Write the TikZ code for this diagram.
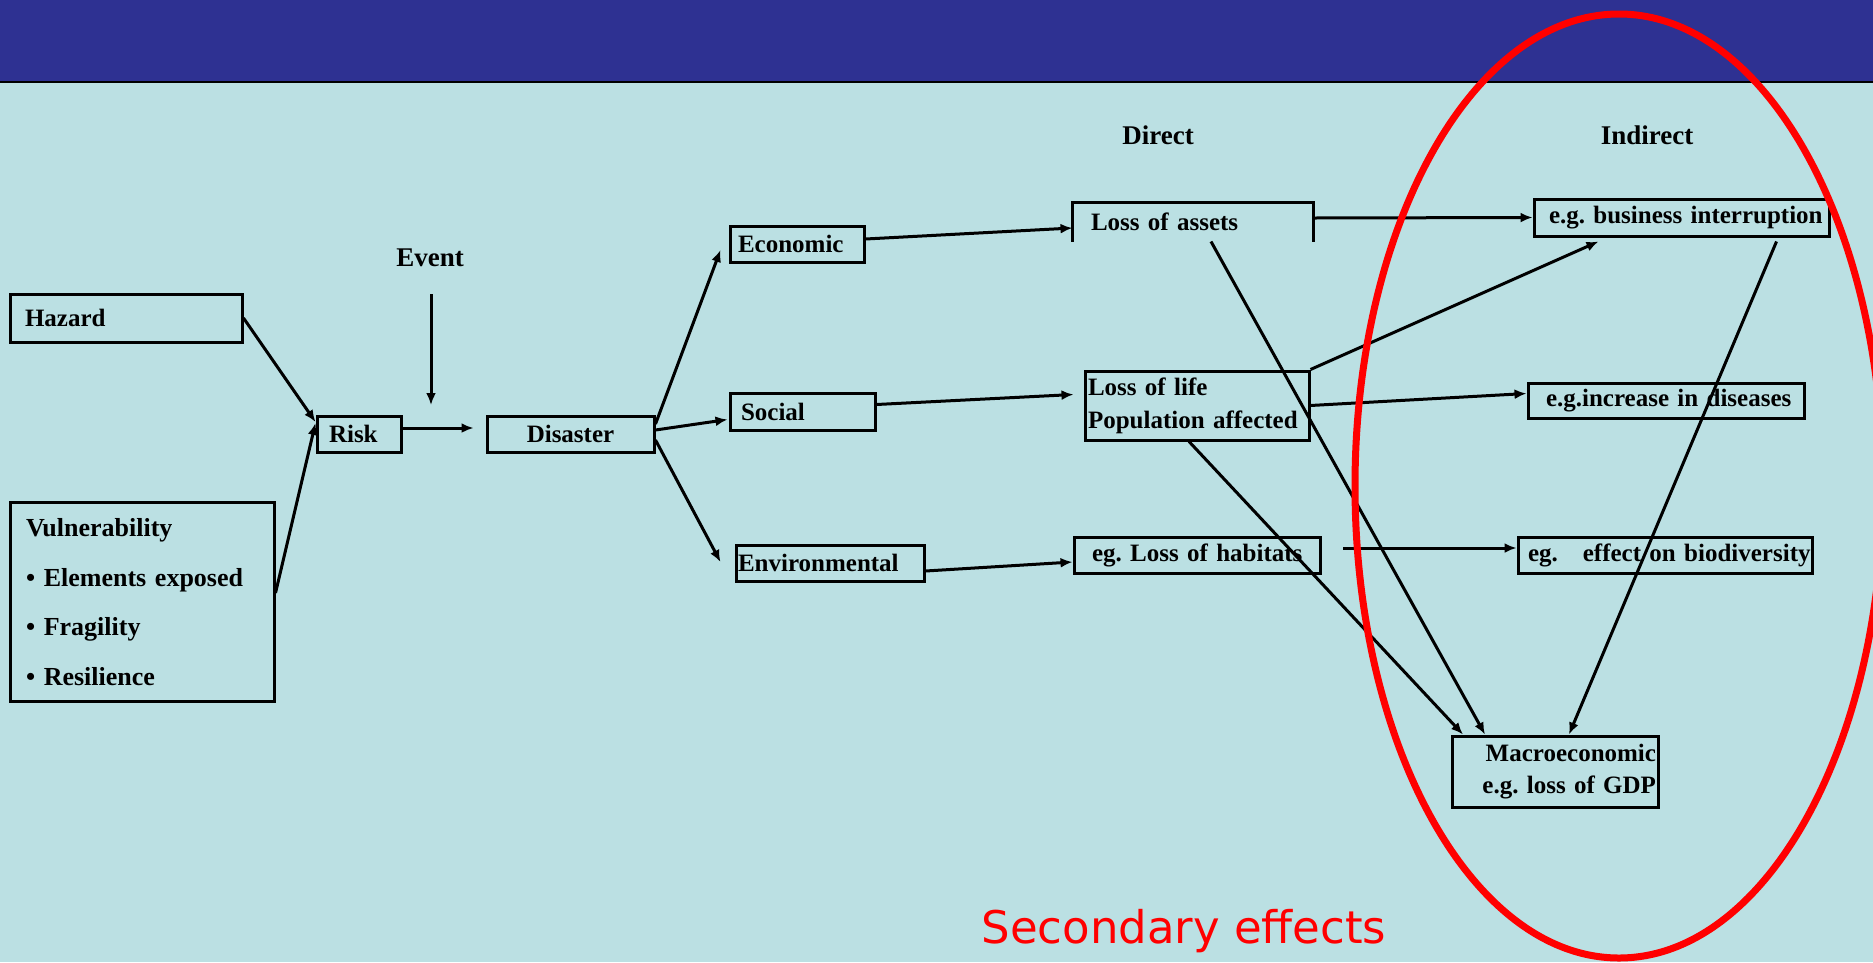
\documentclass[tikz,border=0pt]{standalone}
\usepackage{fontspec}
\setmainfont{Liberation Serif}
\newfontfamily\capfont{DejaVu Sans}
\usetikzlibrary{arrows.meta}
\frenchspacing
\definecolor{bgblue}{RGB}{187,224,227}
\definecolor{barblue}{RGB}{46,49,146}
\newcommand{\boxfont}{\fontsize{25}{33}\selectfont\bfseries}
\newcommand{\headfont}{\fontsize{27}{32}\selectfont\bfseries}
\tikzset{
  box/.style={draw, line width=3pt, inner ysep=0pt, font=\boxfont, align=left},
  link/.style={line width=3pt, -{Latex[length=12pt,width=10pt]}},
  head/.style={font=\headfont, inner sep=0pt},
}

\begin{document}
\begin{tikzpicture}[x=1pt,y=-1pt]
	\useasboundingbox (0,0) rectangle (1873,962);
	\fill[bgblue] (0,0) rectangle (1873,962);
	\fill[barblue] (0,0) rectangle (1873,81);
	\draw[line width=2.5pt] (0,82) -- (1873,82);
	% causes
	\node[box, text width=202pt, inner xsep=15pt, minimum height=48pt] (hazard) at (126,318) {Hazard};
	\node[box, text width=232pt, inner xsep=16pt, minimum height=199pt, font=\fontsize{26}{49.7}\selectfont\bfseries] (vuln) at (142,602) {Vulnerability\\\mbox{• Elements exposed}\\• Fragility\\• Resilience};
	\node[box, text width=60pt, inner xsep=12pt, minimum height=36pt] (risk) at (359,434) {Risk};
	\node[box, text width=147pt, inner xsep=10pt, minimum height=36pt, align=center] (disaster) at (570.5,434) {Disaster};
	\node[head] (event) at (430,258) {Event};
	\coordinate (evtop) at (431,294);
	\coordinate (evhit) at (431,405);
	% kinds of impact
	\node[box, text width=118pt, inner xsep=8pt, minimum height=36pt] (economic) at (797,244) {Economic};
	\node[box, text width=123pt, inner xsep=11pt, minimum height=37pt] (social) at (802.5,411.5) {Social};
	\node[box, text width=184pt, inner xsep=2pt, minimum height=36pt] (environmental) at (830,563) {Environmental};
	% direct effects
	\node[head] (direct) at (1158,135) {Direct};
	\node[box, draw=none, text width=204pt, inner xsep=17pt, minimum height=36pt] (assets) at (1193,222) {\mbox{Loss of assets}};
	\draw[line width=3pt] (assets.south west) -- (assets.north west) -- (assets.north east) -- (assets.south east);
	\node[box, text width=218pt, inner xsep=3pt, minimum height=69pt] (life) at (1197,405.5) {\mbox{Loss of life}\\\mbox{Population affected}};
	\node[box, text width=210pt, inner xsep=18pt, minimum height=36pt] (habitats) at (1197,555) {\mbox{eg. Loss of habitats}};
	\coordinate (habgap) at (1343,548);
	% indirect effects
	\node[head] (indirect) at (1647,135) {Indirect};
	\node[box, text width=265pt, inner xsep=15pt, minimum height=37pt] (business) at (1681.5,217.5) {\mbox{e.g. business interruption}};
	\node[box, text width=240pt, inner xsep=18pt, minimum height=35pt] (diseases) at (1666,400.5) {\mbox{e.g.increase in diseases}};
	\node[box, text width=274pt, inner xsep=10pt, minimum height=36pt] (bio) at (1665,555) {\mbox{eg.\ \ \ effect on biodiversity}};
	\node[box, text width=202pt, inner xsep=2pt, minimum height=71pt, align=right, font=\fontsize{25}{32}\selectfont\bfseries] (macro) at (1555,771.5) {\mbox{Macroeconomic}\\\mbox{e.g. loss of GDP}};
	% connectors
	\draw[link] (hazard.east) -- ([yshift=12pt]risk.west);
	\draw[link] ([yshift=9pt]vuln.east) -- ([yshift=11pt]risk.west);
	\draw[link] (evtop) -- (evhit);
	\draw[link] ([yshift=6pt]risk.east) -- ([xshift=-12pt,yshift=6pt]disaster.west);
	\draw[link] ([yshift=10pt]disaster.east) -- ([xshift=-8pt,yshift=-6pt]economic.west);
	\draw[link] ([yshift=4pt]disaster.east) -- ([xshift=-1pt,yshift=-8pt]social.west);
	\draw[link] ([yshift=-6pt]disaster.east) -- ([xshift=-14pt,yshift=1pt]environmental.west);
	\draw[link] ([yshift=5pt]economic.east) -- ([yshift=-6pt]assets.west);
	\draw[link] ([yshift=7pt]social.east) -- ([xshift=-10pt,yshift=11pt]life.west);
	\draw[link] ([yshift=-8pt]environmental.east) -- ([yshift=-7pt]habitats.west);
	\draw[link] ([yshift=4pt]assets.east) -- (business.west);
	\draw[link] (life.north east) -- ([xshift=-83pt,yshift=-4pt]business.south);
	\draw[link] (life.east) -- ([yshift=7pt]diseases.west);
	\draw[link] (habgap) -- ([yshift=7pt]bio.west);
	\draw[link] ([xshift=18pt]assets.south) -- ([xshift=-70pt]macro.north);
	\draw[link] ([xshift=-8pt]life.south) -- ([xshift=-92pt]macro.north);
	\draw[link] ([xshift=95pt,yshift=-4pt]business.south) -- ([xshift=14pt]macro.north);
	% secondary effects
	\draw[red, line width=7pt] (1619,486) ellipse [x radius=264pt, y radius=472pt];
	\node[text=red, anchor=base, font=\capfont\fontsize{45}{54}\selectfont] (secondary) at (1184,943) {Secondary effects};
\end{tikzpicture}
\end{document}
